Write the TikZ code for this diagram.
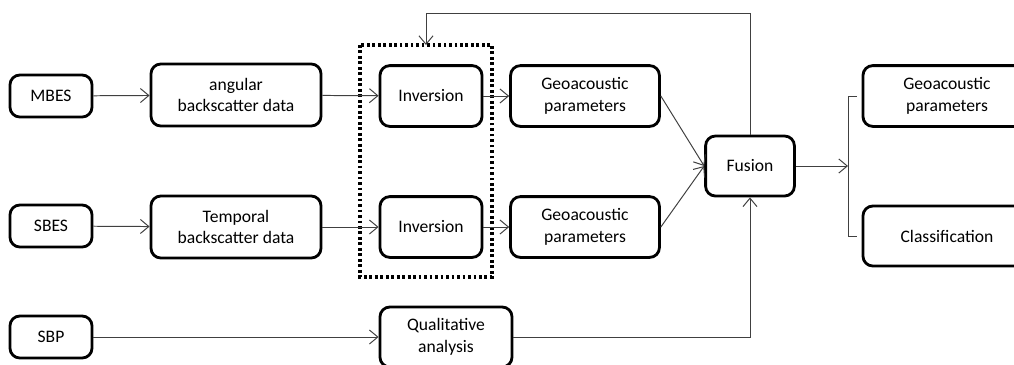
\documentclass[tikz,border=0pt]{standalone}
\usepackage{fontspec}
\setmainfont{Carlito}
\usepackage{tikz}
\usetikzlibrary{calc}
\usetikzlibrary{arrows.meta}

\begin{document}
\begin{tikzpicture}[x=0.025cm,y=-0.025cm]
    \tikzset{box/.style={draw=black,line width=2pt,rounded corners=7pt,align=center,inner sep=2pt,font=\fontsize{12.5}{15.5}\selectfont},
    src/.style={box,minimum width=2.05cm,minimum height=1.05cm},
    link/.style={draw=black!75,line width=0.7pt,-{Straight Barb[length=6pt,width=10pt]}},
    dotbox/.style={draw=black,line width=2.2pt,dash pattern=on 2pt off 1.9pt}}
    
    \useasboundingbox (0,0) rectangle (1014,364);
    
    %sensors
    \node[src] (mbes) at (51,96) {MBES};
    \node[src] (sbes) at (51,226) {SBES};
    \node[src] (sbp) at (51,337) {SBP};
    
    %data
    \node[box,minimum width=4.25cm,minimum height=1.55cm] (angular) at (236,95) {angular\\backscatter data};
    \node[box,minimum width=4.25cm,minimum height=1.55cm] (temporal) at (236,227) {Temporal\\backscatter data};
    
    %inversion
    \node[box,minimum width=2.55cm,minimum height=1.52cm] (inv1) at (431,96) {Inversion};
    \node[box,minimum width=2.55cm,minimum height=1.52cm] (inv2) at (431,227) {Inversion};
    \draw[dotbox] (360,45) rectangle (492,277);
    \coordinate (fb) at (426,45);
    \coordinate (fbtop) at (426,13);
    
    \node[box,minimum width=3.72cm,minimum height=1.52cm] (geo1) at (585,96) {Geoacoustic\\parameters};
    \node[box,minimum width=3.72cm,minimum height=1.52cm] (geo2) at (585,227) {Geoacoustic\\parameters};
    \node[box,minimum width=3.3cm,minimum height=1.5cm] (qual) at (446,337) {Qualitative\\analysis};
    
    \node[box,minimum width=2.22cm,minimum height=1.5cm] (fusion) at (750,166) {Fusion};
    
    %output
    \node[box,minimum width=4.2cm,minimum height=1.52cm,text width=3.8cm] (geoout) at (947,96) {Geoacoustic\hspace*{0.45cm}\\parameters\hspace*{0.45cm}};
    \node[box,minimum width=4.2cm,minimum height=1.5cm,text width=3.8cm] (class) at (947,236) {Classification\hspace*{0.45cm}};
    \coordinate (brk) at (848,166);
    
    \draw[link] (mbes) -- (angular);
    \draw[link] (sbes) -- (temporal);
    \draw[link] (angular) -- (inv1);
    \draw[link] (temporal) -- (inv2);
    \draw[link] (inv1) -- (geo1);
    \draw[link] (inv2) -- (geo2);
    \draw[link] (sbp) -- (qual);
    \draw[link] (geo1.east) -- (fusion.west);
    \draw[link] (geo2.east) -- (fusion.west);
    \draw[link] (qual.east) -| (fusion.south);
    \draw[link] (fusion.north) |- (fbtop) -- (fb);
    \draw[link] (fusion.east) -- (brk);
    
    %bracket
    \draw[draw=black!75,line width=0.7pt] (857,96) -- (848,96) -- (848,236) -- (857,236);
\end{tikzpicture}
\end{document}
